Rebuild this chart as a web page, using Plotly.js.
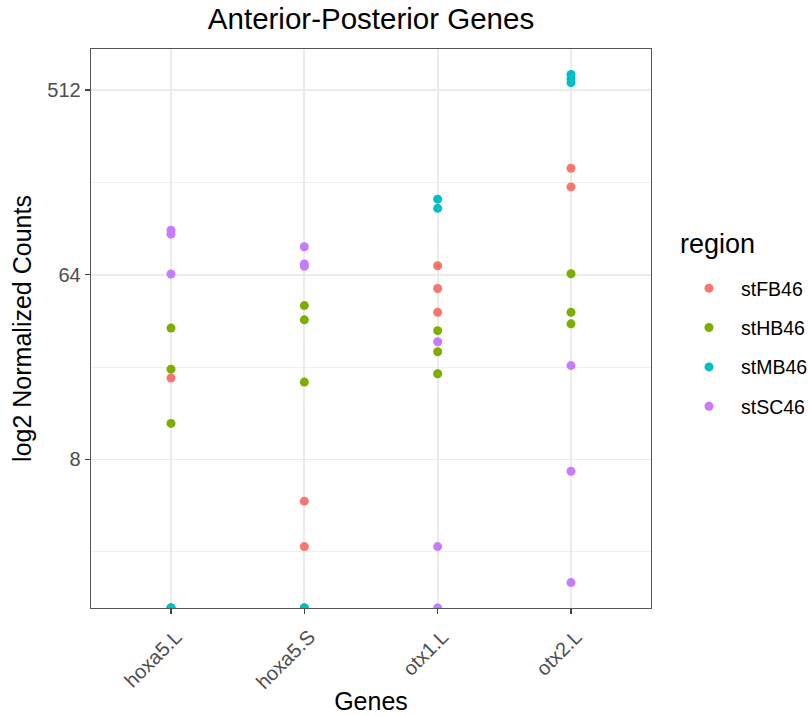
<!DOCTYPE html>
<html>
<head>
<meta charset="utf-8">
<script src="https://cdn.plot.ly/plotly-3.0.1.min.js"></script>
<style>html,body{margin:0;padding:0;background:#fff;}#chart{width:808px;height:715px;}</style>
</head>
<body>
<div id="chart"></div>
<script>
// ---- data (normalized counts; 0 = not detected, drawn on the lower panel edge as ggplot does with -Inf) ----
const genes = ['hoxa5.L', 'hoxa5.S', 'otx1.L', 'otx2.L'];
const regions = ['stFB46', 'stHB46', 'stMB46', 'stSC46'];
const regionColors = ['#F8766D', '#7CAE00', '#00BFC4', '#C77CFF'];

const fbGene  = ['hoxa5.L', 'hoxa5.S', 'hoxa5.S', 'otx1.L', 'otx1.L', 'otx1.L', 'otx2.L', 'otx2.L'];
const fbCount = [20.0, 5.0, 3.0, 70.8, 54.8, 41.9, 212, 172];

const hbGene  = ['hoxa5.L', 'hoxa5.L', 'hoxa5.L', 'hoxa5.S', 'hoxa5.S', 'hoxa5.S', 'otx1.L', 'otx1.L', 'otx1.L', 'otx2.L', 'otx2.L', 'otx2.L'];
const hbCount = [35.1, 22.1, 12.0, 45.2, 38.5, 19.1, 34.1, 26.9, 21.0, 64.7, 41.9, 36.8];

const mbGene  = ['hoxa5.L', 'hoxa5.L', 'hoxa5.L', 'hoxa5.S', 'hoxa5.S', 'hoxa5.S', 'otx1.L', 'otx1.L', 'otx2.L', 'otx2.L', 'otx2.L'];
const mbCount = [0, 0, 0, 0, 0, 0, 149.8, 135.1, 610, 582, 556];

const scGene  = ['hoxa5.L', 'hoxa5.L', 'hoxa5.L', 'hoxa5.S', 'hoxa5.S', 'hoxa5.S', 'otx1.L', 'otx1.L', 'otx1.L', 'otx2.L', 'otx2.L', 'otx2.L'];
const scCount = [105.7, 101, 64.5, 87.7, 72.2, 70.3, 30.1, 3.0, 0, 23.0, 7.0, 2.0];

const yTickVals = [8, 64, 512];
const yTickText = ['8', '64', '512'];
const legendTitle = 'region';

// ---- build ----
const seriesGenes = [fbGene, hbGene, mbGene, scGene];
const seriesCounts = [fbCount, hbCount, mbCount, scCount];

// y range like ggplot's log2 scale: finite values, 5% expansion
const allPos = seriesCounts.flat().filter(v => v > 0).map(v => Math.log2(v));
const lo2 = Math.min(...allPos), hi2 = Math.max(...allPos);
const pad = (hi2 - lo2) * 0.05;
const yLo2 = lo2 - pad, yHi2 = hi2 + pad;
const L10_2 = Math.log10(2);
const edgeValue = Math.pow(2, yLo2);

const minorVals = [];
for (let i = 0; i < yTickVals.length; i++) {
  const prev = i === 0 ? yTickVals[0] / 8 : yTickVals[i - 1];
  minorVals.push(Math.sqrt(prev * yTickVals[i]));
}

const FONT = 'Liberation Sans, Arial, Helvetica, sans-serif';
const W = 808, H = 715;

const traces = regions.map((r, i) => ({
  type: 'scatter',
  mode: 'markers',
  name: r,
  legendgroup: r,
  x: seriesGenes[i],
  y: seriesCounts[i].map(v => v > 0 ? v : edgeValue),
  marker: { color: regionColors[i], size: 9, line: { width: 0 } },
  cliponaxis: true,
  hovertemplate: '%{x}<br>' + r + ': %{y}<extra></extra>'
}));

const PL = 91, PR = 651, PT = 49, PB = 608;

const layout = {
  width: W, height: H,
  paper_bgcolor: '#ffffff', plot_bgcolor: '#ffffff',
  margin: { l: PL, r: W - PR, t: PT, b: H - PB, pad: 0, autoexpand: false },
  font: { family: FONT, color: '#000000' },
  title: {
    text: 'Anterior-Posterior Genes',
    font: { family: FONT, size: 29.5, color: '#000000' },
    x: 0.5, xref: 'paper', xanchor: 'center',
    y: 1 - 19 / H, yref: 'container', yanchor: 'middle'
  },
  xaxis: {
    type: 'category',
    categoryorder: 'array', categoryarray: genes,
    range: [-0.6, genes.length - 0.4],
    showgrid: true, gridcolor: '#EBEBEB', gridwidth: 1.8,
    showline: true, linecolor: '#555555', linewidth: 1.3, mirror: true,
    ticks: 'outside', ticklen: 5, tickcolor: '#444444', tickwidth: 1.3,
    tickangle: -45,
    ticklabelshift: 5, ticklabelstandoff: 3,
    tickfont: { family: FONT, size: 20, color: '#4D4D4D' },
    title: { text: 'Genes', font: { family: FONT, size: 25, color: '#000000' }, standoff: 7 },
    zeroline: false, fixedrange: true
  },
  yaxis: {
    type: 'log',
    range: [yLo2 * L10_2, yHi2 * L10_2],
    tickmode: 'array', tickvals: yTickVals, ticktext: yTickText,
    showgrid: true, gridcolor: '#EBEBEB', gridwidth: 1.8,
    minor: { tickmode: 'array', tickvals: minorVals, showgrid: true, gridcolor: '#EFEFEF', gridwidth: 1, ticks: '' },
    showline: true, linecolor: '#555555', linewidth: 1.3, mirror: true,
    ticks: 'outside', ticklen: 5, tickcolor: '#444444', tickwidth: 1.3,
    tickfont: { family: FONT, size: 20, color: '#4D4D4D' },
    title: { text: 'log2 Normalized Counts', font: { family: FONT, size: 25, color: '#000000' }, standoff: 8 },
    zeroline: false, fixedrange: true
  },
  showlegend: true,
  legend: {
    xref: 'container', yref: 'container',
    x: 677 / W, xanchor: 'left',
    y: 1 - 269 / H, yanchor: 'top',
    font: { family: FONT, size: 19.5, color: '#000000' },
    tracegroupgap: 11,
    itemwidth: 54,
    bgcolor: 'rgba(0,0,0,0)', borderwidth: 0
  },
  annotations: [{
    text: legendTitle, showarrow: false,
    xref: 'paper', yref: 'paper',
    x: (678 - PL) / (PR - PL), xanchor: 'left',
    y: 1 - (244 - PT) / (PB - PT), yanchor: 'middle',
    font: { family: FONT, size: 27, color: '#000000' }
  }]
};

Plotly.newPlot('chart', traces, layout, { displayModeBar: false, staticPlot: true });
</script>
</body>
</html>
